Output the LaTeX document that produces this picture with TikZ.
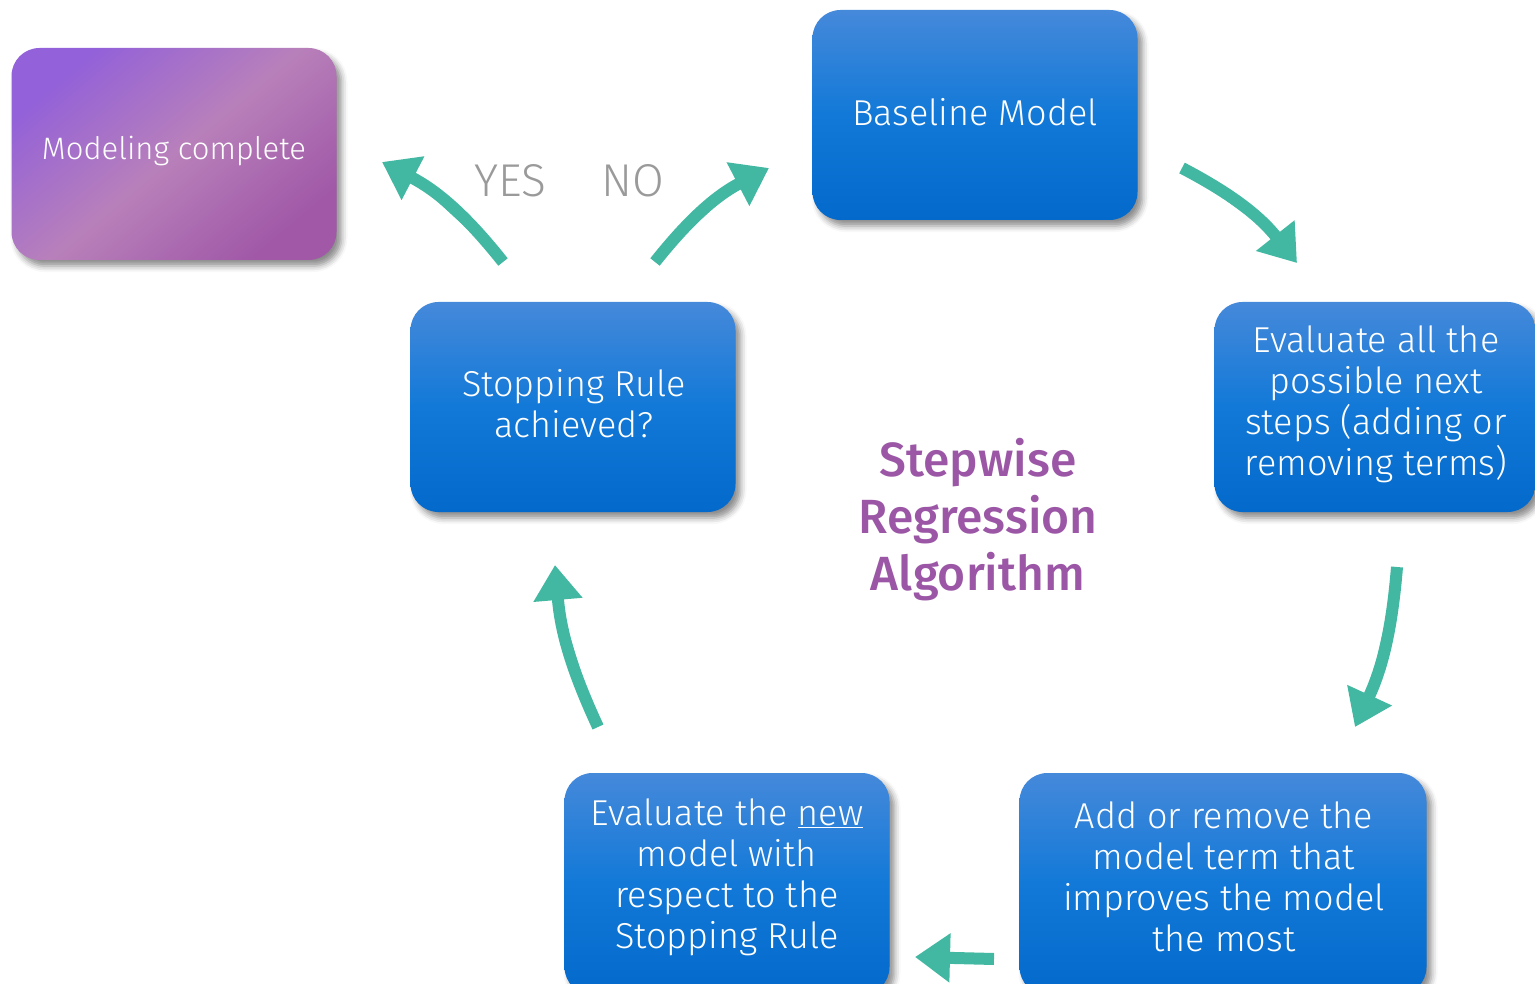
\documentclass[tikz,border=0pt]{standalone}
\usepackage{fontspec}
\setmainfont{Fira Sans Light}[BoldFont={Fira Sans Medium}]
\usetikzlibrary{arrows.meta,shadows.blur,positioning}
\definecolor{teal}{HTML}{42B8A2}
\definecolor{btop}{HTML}{4589DA}
\definecolor{bmid}{HTML}{1279D8}
\definecolor{bbot}{HTML}{0369CB}
\definecolor{ptl}{HTML}{9361D9}
\definecolor{pmid}{HTML}{B880BA}
\definecolor{pbr}{HTML}{A058A7}
\definecolor{titlec}{HTML}{9B57A6}
\definecolor{yesno}{HTML}{9A9A9A}
\tikzset{
  bluebox/.style={rounded corners=28pt, top color=btop, bottom color=bbot, middle color=bmid,
    draw=none, text=white, align=center, font=\fontsize{36}{41}\selectfont,
    blur shadow={shadow xshift=5pt, shadow yshift=-6pt, shadow blur radius=6pt, shadow opacity=45}},
  purplebox/.style={rounded corners=28pt, top color=ptl, bottom color=pbr, middle color=pmid, shading angle=40,
    draw=none, text=white, align=center, font=\fontsize{31}{36}\selectfont,
    blur shadow={shadow xshift=5pt, shadow yshift=-6pt, shadow blur radius=6pt, shadow opacity=45}},
  boxtext/.style={text=white, align=center, font=\fontsize{36}{41}\selectfont},
  arr/.style={draw=teal, line width=12pt, -{Triangle[length=35pt,width=47pt]}, fill=teal},
  yn/.style={text=yesno, font=\fontsize{46}{50}\selectfont},
}
\begin{document}
\begin{tikzpicture}[x=1pt,y=-1pt]
\useasboundingbox (0,0) rectangle (1535,984);
% boxes
\node[purplebox, minimum width=325pt, minimum height=212pt] (done) at (174,154) {};
\node[boxtext, font=\fontsize{31}{36}\selectfont] (donet) at (174,151) {Modeling complete};
\node[bluebox, minimum width=325pt, minimum height=210pt] (base) at (975,115) {};
\node[boxtext] (baset) at (975,112) {Baseline Model};
\node[bluebox, minimum width=321pt, minimum height=210pt] (evalall) at (1375,407) {};
\node[boxtext] (evalallt) at (1376,404) {Evaluate all the\\possible next\\steps (adding or\\removing terms)};
\node[bluebox, minimum width=407pt, minimum height=222pt] (addrem) at (1223,884) {};
\node[boxtext] (addremt) at (1224,877) {Add or remove the\\model term that\\improves the model\\the most};
\node[bluebox, minimum width=325pt, minimum height=222pt] (evalnew) at (727,884) {};
\node[boxtext] (evalnewt) at (727,877) {Evaluate the \underline{new}\\model with\\respect to the\\Stopping Rule};
\node[bluebox, minimum width=325pt, minimum height=210pt] (stop) at (573,407) {};
\node[boxtext] (stopt) at (574,404) {Stopping Rule\\achieved?};
% title
\node[text=titlec, font=\bfseries\fontsize{48}{57}\selectfont, align=center] (title) at (978,520) {Stepwise\\Regression\\Algorithm};
% yes / no
\node[yn] (yes) at (510,181) {YES};
\node[yn] (no) at (633,181) {NO};
% arrow ends
\coordinate (a1s) at (503,262); \coordinate (a1e) at (382,162);
\coordinate (a2s) at (655,262); \coordinate (a2e) at (769,168);
\coordinate (a3s) at (1182,168); \coordinate (a3e) at (1297,263);
\coordinate (a4s) at (1397,567); \coordinate (a4e) at (1355,727);
\coordinate (a5s) at (994,959); \coordinate (a5e) at (915,957);
\coordinate (a6s) at (598,727); \coordinate (a6e) at (555,565);
\draw[arr] (a1s) to[bend right=12] (a1e);
\draw[arr] (a2s) to[bend left=12] (a2e);
\draw[arr] (a3s) to[bend left=12] (a3e);
\draw[arr] (a4s) to[bend left=10] (a4e);
\draw[arr] (a5s) -- (a5e);
\draw[arr] (a6s) to[bend left=10] (a6e);
\end{tikzpicture}
\end{document}
